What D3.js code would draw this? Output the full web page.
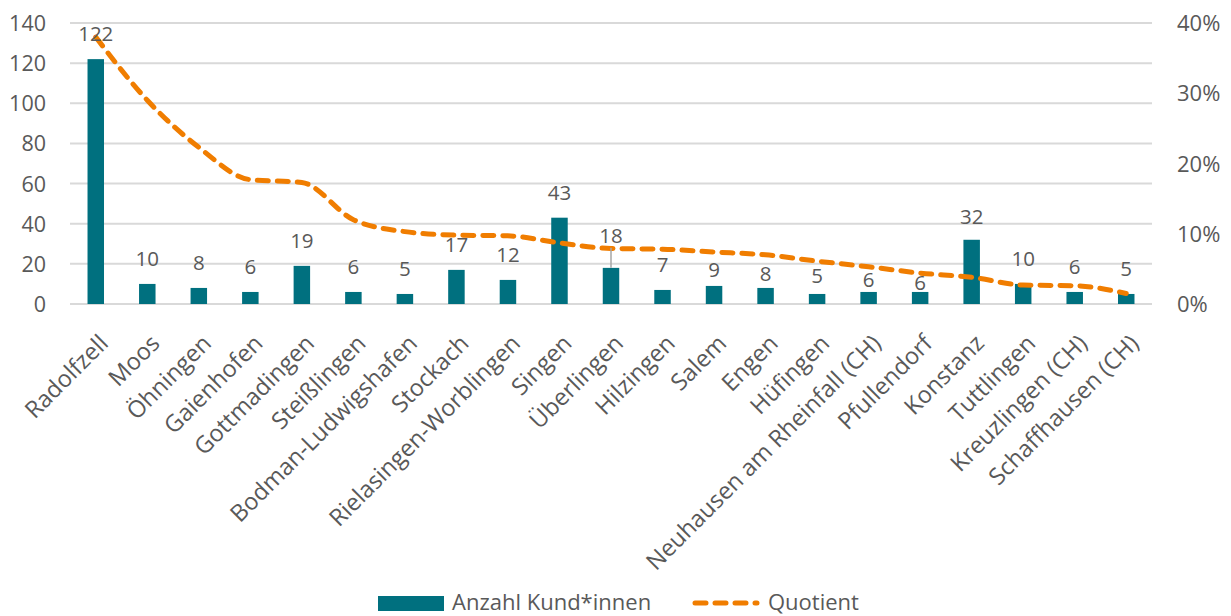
<!DOCTYPE html>
<html><head><meta charset="utf-8">
<script src="https://cdn.jsdelivr.net/npm/d3@7"></script>
<style>
html,body{margin:0;padding:0;background:#fff;}
svg text{font-family:"Open Sans","Noto Sans",sans-serif;fill:#595959;}
</style></head>
<body>
<svg id="chart" width="1231" height="616"></svg>
<script>
const categories = ["Radolfzell","Moos","Öhningen","Gaienhofen","Gottmadingen","Steißlingen","Bodman-Ludwigshafen","Stockach","Rielasingen-Worblingen","Singen","Überlingen","Hilzingen","Salem","Engen","Hüfingen","Neuhausen am Rheinfall (CH)","Pfullendorf","Konstanz","Tuttlingen","Kreuzlingen (CH)","Schaffhausen (CH)"];
const customers = [122,10,8,6,19,6,5,17,12,43,18,7,9,8,5,6,6,32,10,6,5];
const quotient = [0.38,0.29,0.223,0.177,0.173,0.12,0.103,0.098,0.097,0.087,0.079,0.078,0.074,0.070,0.061,0.053,0.044,0.038,0.027,0.026,0.015];
const leftTicks = [0,20,40,60,80,100,120,140];
const rightTicks = [0,0.1,0.2,0.3,0.4];
const seriesNames = ["Anzahl Kund*innen","Quotient"];

// layout-only label nudges (px above default position; negative = lower)
const labelNudge = {"Überlingen":7,"Salem":-9,"Engen":-11,"Hüfingen":-7,"Neuhausen am Rheinfall (CH)":-13,"Pfullendorf":-16,"Konstanz":-2};

const svg = d3.select("#chart");
const L = 70, R = 1152, T = 23, B = 304;
const teal = "#00707f", orange = "#f07d00";

const x = d3.scaleBand().domain(categories).range([L, R]).paddingInner(0.68).paddingOuter(0.34);
const y = d3.scaleLinear().domain([0, 140]).range([B, T]);
const y2 = d3.scaleLinear().domain([0, 0.4]).range([B, T]);

// gridlines
svg.append("g").selectAll("line").data(leftTicks).join("line")
  .attr("x1", L).attr("x2", R).attr("y1", d => y(d)).attr("y2", d => y(d))
  .attr("stroke", "#d9d9d9").attr("stroke-width", 2);

// left axis
const gl = svg.append("g").attr("transform", `translate(${L-24},0)`)
  .call(d3.axisLeft(y).tickValues(leftTicks).tickSize(0).tickPadding(0));
gl.select(".domain").remove();
gl.selectAll("text").attr("font-size", 21.5).attr("dy", "0.35em").attr("fill", "#595959");

// right axis
const gr = svg.append("g").attr("transform", `translate(${R+25},0)`)
  .call(d3.axisRight(y2).tickValues(rightTicks).tickSize(0).tickPadding(0).tickFormat(d3.format(".0%")));
gr.select(".domain").remove();
gr.selectAll("text").attr("font-size", 22).attr("dy", "0.35em").attr("fill", "#595959");

// bars
svg.append("g").selectAll("rect").data(customers).join("rect")
  .attr("x", (d, i) => x(categories[i])).attr("width", x.bandwidth())
  .attr("y", d => y(d)).attr("height", d => y(0) - y(d))
  .attr("fill", teal);

// x labels
const gx = svg.append("g").attr("transform", `translate(0,${B})`)
  .call(d3.axisBottom(x).tickSize(0).tickPadding(0));
gx.select(".domain").remove();
gx.selectAll("text")
  .attr("font-size", 23.5).attr("text-anchor", "end")
  .attr("transform", "translate(8,35) rotate(-45)")
  .attr("dy", "0.35em").attr("fill", "#595959");

// line
const line = d3.line()
  .x((d, i) => x(categories[i]) + x.bandwidth() / 2)
  .y(d => y2(d))
  .curve(d3.curveMonotoneX);
svg.append("path").datum(quotient).attr("d", line)
  .attr("fill", "none").attr("stroke", orange).attr("stroke-width", 5)
  .attr("stroke-dasharray", "11,9").attr("stroke-linecap", "round");

// data labels
const lbl = svg.append("g");
customers.forEach((v, i) => {
  const c = categories[i];
  const cx = x(c) + x.bandwidth() / 2;
  const nudge = labelNudge[c] || 0;
  const by = y(v) - 18 - nudge;
  if (c === "Überlingen") {
    lbl.append("line").attr("x1", cx).attr("x2", cx).attr("y1", by + 5).attr("y2", y(v))
      .attr("stroke", "#a6a6a6").attr("stroke-width", 1.5);
  }
  lbl.append("text").attr("x", cx).attr("y", by).attr("text-anchor", "middle")
    .attr("font-size", 20.5).text(v);
});

// legend
const lg = svg.append("g");
lg.append("rect").attr("x", 378).attr("y", 596).attr("width", 66).attr("height", 15).attr("fill", teal);
lg.append("text").attr("x", 452).attr("y", 610).attr("font-size", 22).text(seriesNames[0]);
lg.append("line").attr("x1", 695).attr("x2", 757).attr("y1", 603).attr("y2", 603)
  .attr("stroke", orange).attr("stroke-width", 5).attr("stroke-dasharray", "11,9").attr("stroke-linecap", "round");
lg.append("text").attr("x", 768).attr("y", 610).attr("font-size", 22).text(seriesNames[1]);
</script>
</body></html>
